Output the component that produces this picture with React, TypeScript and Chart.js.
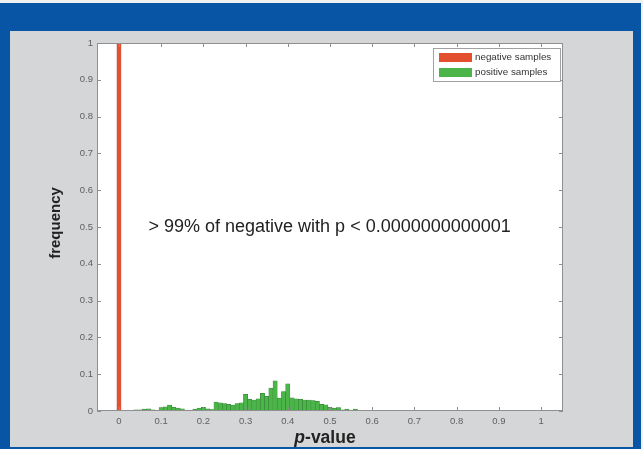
import { useEffect, useRef } from 'react';
import { Chart, registerables } from 'chart.js';
Chart.register(...registerables);

const seriesNames = ['negative samples', 'positive samples'];
const negativeBins = [0];
const negativeFreq = [0.997];
const positiveBins = [
  0.01, 0.02, 0.03, 0.04, 0.05, 0.06, 0.07, 0.08, 0.09, 0.1,
  0.11, 0.12, 0.13, 0.14, 0.15, 0.16, 0.17, 0.18, 0.19, 0.2,
  0.21, 0.22, 0.23, 0.24, 0.25, 0.26, 0.27, 0.28, 0.29, 0.3,
  0.31, 0.32, 0.33, 0.34, 0.35, 0.36, 0.37, 0.38, 0.39, 0.4,
  0.41, 0.42, 0.43, 0.44, 0.45, 0.46, 0.47, 0.48, 0.49, 0.5,
  0.51, 0.52, 0.53, 0.54, 0.55, 0.56, 0.57, 0.58, 0.59, 0.6,
];
const positiveFreq = [
  0.002, 0.002, 0.002, 0.003, 0.003, 0.005, 0.006, 0.003, 0.002, 0.009,
  0.011, 0.016, 0.01, 0.008, 0.006, 0.002, 0.001, 0.005, 0.008, 0.01,
  0.006, 0.004, 0.024, 0.022, 0.02, 0.018, 0.016, 0.02, 0.022, 0.045,
  0.032, 0.03, 0.033, 0.048, 0.04, 0.062, 0.082, 0.035, 0.053, 0.074,
  0.036, 0.033, 0.032, 0.03, 0.03, 0.028, 0.026, 0.018, 0.017, 0.01,
  0.008, 0.009, 0.003, 0.005, 0.001, 0.005, 0.0, 0.0, 0.0, 0.002,
];
const xTickValues = [0, 0.1, 0.2, 0.3, 0.4, 0.5, 0.6, 0.7, 0.8, 0.9, 1];
const xTickLabels = ['0', '0.1', '0.2', '0.3', '0.4', '0.5', '0.6', '0.7', '0.8', '0.9', '1'];
const yTickValues = [0, 0.1, 0.2, 0.3, 0.4, 0.5, 0.6, 0.7, 0.8, 0.9, 1];
const yTickLabels = ['0', '0.1', '0.2', '0.3', '0.4', '0.5', '0.6', '0.7', '0.8', '0.9', '1'];
const annotationText = '> 99% of negative with p < 0.0000000000001';
const annotationX = 0.07;
const annotationY = 0.5;
const yTitle = 'frequency';
const xTitleItalic = 'p';
const xTitleRest = '-value';

const RED = '#e3502f';
const GREEN = '#4cb54a';
const FONT = '"Liberation Sans", Arial, sans-serif';

const framePlugin = {
  id: 'frame',
  beforeDraw(chart: any) {
    const { ctx, width, height, chartArea: ca } = chart;
    ctx.save();
    ctx.fillStyle = '#eef0f2';
    ctx.fillRect(0, 0, width, height);
    ctx.fillStyle = '#0854a5';
    ctx.fillRect(0, 3, width - 2, height - 3);
    ctx.fillStyle = '#d4d6d8';
    ctx.fillRect(10, 31, width - 18 - 2, height - 31 - 2);
    ctx.fillStyle = '#ffffff';
    ctx.fillRect(ca.left, ca.top, ca.right - ca.left, ca.bottom - ca.top);
    ctx.restore();
  },
  afterDraw(chart: any) {
    const { ctx, chartArea: ca, scales } = chart;
    const xs = scales.x;
    const ys = scales.y;
    ctx.save();
    // box
    ctx.strokeStyle = '#8f8f8f';
    ctx.lineWidth = 1;
    ctx.strokeRect(ca.left + 0.5, ca.top + 0.5, ca.right - ca.left - 1, ca.bottom - ca.top - 1);
    // inward ticks
    ctx.beginPath();
    xTickValues.forEach((v) => {
      const px = Math.round(xs.getPixelForValue(v)) + 0.5;
      ctx.moveTo(px, ca.bottom);
      ctx.lineTo(px, ca.bottom - 4);
      ctx.moveTo(px, ca.top);
      ctx.lineTo(px, ca.top + 4);
    });
    yTickValues.forEach((v) => {
      const py = Math.round(ys.getPixelForValue(v)) + 0.5;
      ctx.moveTo(ca.left, py);
      ctx.lineTo(ca.left + 4, py);
      ctx.moveTo(ca.right, py);
      ctx.lineTo(ca.right - 4, py);
    });
    ctx.stroke();

    // legend
    const lw = 128;
    const lh = 34;
    const lx = ca.right - lw - 2;
    const ly = ca.top + 5;
    ctx.fillStyle = '#ffffff';
    ctx.fillRect(lx, ly, lw, lh);
    ctx.strokeStyle = '#a0a0a0';
    ctx.strokeRect(lx + 0.5, ly + 0.5, lw - 1, lh - 1);
    const colors = [RED, GREEN];
    ctx.font = `9.8px ${FONT}`;
    ctx.textBaseline = 'middle';
    ctx.textAlign = 'left';
    seriesNames.forEach((name, i) => {
      const cy = ly + 9.5 + i * 15;
      ctx.fillStyle = colors[i];
      ctx.fillRect(lx + 6, cy - 4.5, 33, 9);
      ctx.fillStyle = '#333333';
      ctx.fillText(name, lx + 42, cy);
    });

    // annotation
    ctx.fillStyle = '#222222';
    ctx.font = `18px ${FONT}`;
    ctx.textAlign = 'left';
    ctx.textBaseline = 'middle';
    ctx.fillText(annotationText, xs.getPixelForValue(annotationX), ys.getPixelForValue(annotationY));

    // y title
    ctx.save();
    ctx.translate(56, (ca.top + ca.bottom) / 2 - 4);
    ctx.rotate(-Math.PI / 2);
    ctx.font = `bold 15px ${FONT}`;
    ctx.textAlign = 'center';
    ctx.textBaseline = 'middle';
    ctx.fillStyle = '#222222';
    ctx.fillText(yTitle, 0, 0);
    ctx.restore();

    // x title
    ctx.font = `italic bold 17.5px ${FONT}`;
    const w1 = ctx.measureText(xTitleItalic).width;
    ctx.font = `bold 17.5px ${FONT}`;
    const w2 = ctx.measureText(xTitleRest).width;
    const cx = (ca.left + ca.right) / 2 - 5;
    const startX = cx - (w1 + w2) / 2;
    ctx.textAlign = 'left';
    ctx.textBaseline = 'middle';
    ctx.fillStyle = '#222222';
    ctx.font = `italic bold 17.5px ${FONT}`;
    ctx.fillText(xTitleItalic, startX, 438);
    ctx.font = `bold 17.5px ${FONT}`;
    ctx.fillText(xTitleRest, startX + w1, 438);
    ctx.restore();
  },
};

export default function App() {
  const ref = useRef<HTMLCanvasElement>(null);
  useEffect(() => {
    document.body.style.margin = '0';
    const canvas = ref.current!;
    const chart = new Chart(canvas, {
      type: 'bar',
      data: {
        datasets: [
          {
            label: seriesNames[0],
            data: negativeBins.map((x, i) => ({ x, y: negativeFreq[i] })),
            backgroundColor: RED,
            borderColor: '#b5432e',
            borderWidth: 0.5,
            grouped: false,
            barPercentage: 1,
            categoryPercentage: 1,
          } as any,
          {
            label: seriesNames[1],
            data: positiveBins.map((x, i) => ({ x, y: positiveFreq[i] })),
            backgroundColor: GREEN,
            borderColor: '#2f7d31',
            borderWidth: 0.5,
            grouped: false,
            barPercentage: 1,
            categoryPercentage: 1,
          } as any,
        ],
      },
      options: {
        responsive: false,
        animation: false,
        events: [],
        layout: { padding: { top: 43, right: 80, left: 0, bottom: 0 } },
        plugins: { legend: { display: false }, tooltip: { enabled: false }, title: { display: false } },
        scales: {
          x: {
            type: 'linear',
            offset: false,
            min: -0.052,
            max: 1.052,
            grid: { display: false, drawTicks: false, tickLength: 0 },
            border: { display: false },
            afterBuildTicks: (s: any) => {
              s.ticks = xTickValues.map((v) => ({ value: v }));
            },
            afterFit: (s: any) => {
              s.height = 38;
            },
            ticks: {
              color: '#606060',
              font: { family: FONT, size: 9.5 },
              padding: 5,
              maxRotation: 0,
              autoSkip: false,
              callback: (_v: any, i: number) => xTickLabels[i],
            },
          },
          y: {
            type: 'linear',
            min: 0,
            max: 1,
            grid: { display: false, drawTicks: false, tickLength: 0 },
            border: { display: false },
            afterBuildTicks: (s: any) => {
              s.ticks = yTickValues.map((v) => ({ value: v }));
            },
            afterFit: (s: any) => {
              s.width = 97;
            },
            ticks: {
              color: '#606060',
              font: { family: FONT, size: 9.5 },
              padding: 4,
              autoSkip: false,
              callback: (_v: any, i: number) => yTickLabels[i],
            },
          },
        },
      },
      plugins: [framePlugin],
    });
    return () => chart.destroy();
  }, []);
  return (
    <div style={{ width: 643, height: 449 }}>
      <canvas ref={ref} width={643} height={449} style={{ display: 'block' }} />
    </div>
  );
}
